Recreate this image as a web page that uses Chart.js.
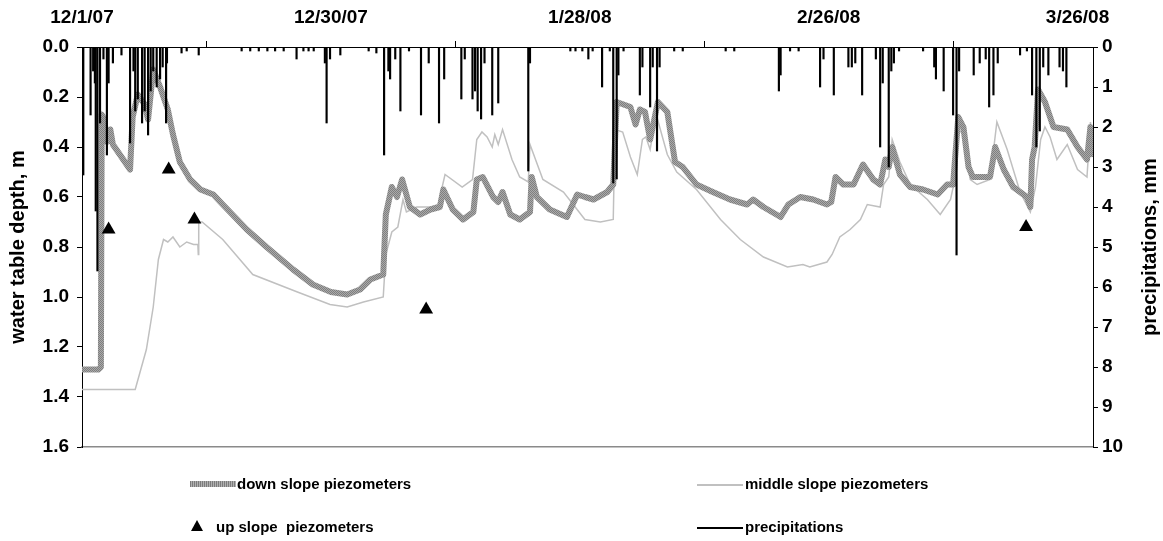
<!DOCTYPE html>
<html>
<head>
<meta charset="utf-8">
<script src="https://cdn.jsdelivr.net/npm/chart.js@4/dist/chart.umd.min.js"></script>
<style>
	body { margin: 0; background: #fff; }
	#wrap { position: relative; width: 1163px; height: 541px; }
	#chart { position: absolute; left: 0; top: 0; }
	.legend_item { position: absolute; font: bold 15px "Liberation Sans", Arial, sans-serif; color: #000; white-space: pre; line-height: 18px; }
	.sample { position: absolute; }
</style>
</head>
<body>
<div id="wrap">
	<canvas id="chart" width="1163" height="541"></canvas>
	<div class="sample" style="left:190px;top:481px;width:46px;height:6px;background:#999;background-image:repeating-linear-gradient(90deg,#7c7c7c 0 1px,#b0b0b0 1px 2px);"></div>
	<div class="legend_item" style="left:237px;top:475px;">down slope piezometers</div>
	<div class="sample" style="left:697px;top:484px;width:46px;height:1.5px;background:#c0c0c0;"></div>
	<div class="legend_item" style="left:745px;top:475px;">middle slope piezometers</div>
	<div class="sample" style="left:191px;top:520px;width:0;height:0;border-left:6px solid transparent;border-right:6px solid transparent;border-bottom:11px solid #000;"></div>
	<div class="legend_item" style="left:216px;top:518px;">up slope  piezometers</div>
	<div class="sample" style="left:697px;top:527px;width:46px;height:1.5px;background:#000;"></div>
	<div class="legend_item" style="left:745px;top:518px;">precipitations</div>
</div>
<script>
// days counted from 12/1/07
let tickDays = [0, 29, 58, 87, 116];
let tickLabels = ['12/1/07', '12/30/07', '1/28/08', '2/26/08', '3/26/08'];

let downDays = [0, 1.9, 2.2, 2.3, 2.6, 2.9, 3.3, 3.6, 4.8, 5.6, 5.9, 6.5, 7.3, 7.7, 8.3, 9.1, 10.0, 10.6, 11.4, 12.6,
	13.8, 15.3, 16.4, 19.2, 21.5, 24.6, 26.9, 29.0, 30.9, 32.4, 33.6, 35.1, 35.4, 36.1, 36.7, 37.3, 38.2, 39.4, 40.6, 41.7,
	42.1, 43.2, 44.4, 45.6, 46.0, 46.7, 47.9, 48.5, 49.0, 49.9, 51.0, 52.2, 52.4, 53.0, 54.5, 56.5, 57.7, 58.6, 59.6, 61.2,
	61.9, 62.3, 63.9, 64.5, 65.0, 65.6, 66.2, 67.1, 68.2, 69.1, 70.0, 71.6, 73.5, 75.5, 77.5, 78.2, 79.4, 81.4, 82.3, 83.7,
	85.2, 86.8, 87.3, 87.8, 88.7, 89.9, 91.0, 92.2, 93.0, 93.6, 94.0, 94.4, 95.3, 96.5, 98.0, 99.7, 100.8, 101.5, 102.1, 102.7,
	103.3, 103.8, 105.8, 106.4, 107.4, 108.5, 110.1, 110.5, 110.7, 111.0, 111.4, 112.2, 113.2, 114.8, 116.0, 117.1, 117.5, 117.8];
let downDepth = [1.29, 1.29, 1.28, 0.27, 0.29, 0.38, 0.33, 0.39, 0.45, 0.49, 0.28, 0.19, 0.23, 0.29, 0.09, 0.16, 0.25, 0.35, 0.46, 0.53,
	0.57, 0.59, 0.63, 0.73, 0.80, 0.89, 0.95, 0.98, 0.99, 0.97, 0.93, 0.91, 0.67, 0.56, 0.60, 0.53, 0.64, 0.67, 0.65, 0.64,
	0.57, 0.65, 0.69, 0.66, 0.53, 0.52, 0.60, 0.62, 0.58, 0.67, 0.69, 0.66, 0.52, 0.60, 0.65, 0.68, 0.59, 0.60, 0.61, 0.58,
	0.55, 0.22, 0.24, 0.31, 0.25, 0.26, 0.37, 0.22, 0.26, 0.46, 0.48, 0.55, 0.58, 0.61, 0.63, 0.61, 0.64, 0.68, 0.63, 0.60,
	0.61, 0.63, 0.62, 0.52, 0.55, 0.55, 0.47, 0.53, 0.55, 0.45, 0.48, 0.40, 0.51, 0.56, 0.57, 0.59, 0.55, 0.55, 0.28, 0.32,
	0.48, 0.52, 0.52, 0.40, 0.49, 0.56, 0.60, 0.64, 0.45, 0.40, 0.17, 0.22, 0.32, 0.33, 0.40, 0.45, 0.32, 0.44];

let midDays = [0, 6.2, 7.5, 8.3, 8.9, 9.5, 10.0, 10.6, 11.4, 12.2, 13.0, 13.5, 13.55, 13.6, 14.0, 16.4, 19.9, 25.1, 28.9, 30.9,
	32.8, 35.1, 35.4, 36.1, 36.8, 37.4, 37.8, 39.0, 40.6, 41.5, 42.3, 44.3, 45.5, 46.0, 46.6, 47.2, 47.8, 48.1, 48.5, 49.0,
	50.1, 51.0, 52.0, 52.2, 53.7, 56.1, 58.6, 60.4, 61.9, 62.1, 63.0, 63.9, 64.7, 65.3, 65.7, 66.2, 66.9, 68.2, 69.3, 71.6,
	74.4, 76.7, 79.4, 82.2, 84.0, 84.8, 86.8, 87.4, 88.3, 89.5, 90.7, 91.5, 93.0, 93.4, 94.0, 94.4, 95.3, 96.5, 98.5, 100.0,
	101.2, 101.7, 102.1, 102.7, 103.5, 104.3, 105.8, 106.6, 107.8, 109.3, 110.5, 111.1, 111.7, 112.2, 112.8, 113.6, 114.8, 116.0, 117.1, 117.5,
	117.8];
let midDepth = [1.37, 1.37, 1.21, 1.04, 0.85, 0.77, 0.78, 0.76, 0.80, 0.78, 0.79, 0.79, 0.83, 0.70, 0.70, 0.77, 0.91, 0.98, 1.03, 1.04,
	1.02, 1.00, 0.83, 0.74, 0.72, 0.61, 0.66, 0.64, 0.64, 0.63, 0.51, 0.56, 0.53, 0.37, 0.34, 0.36, 0.40, 0.35, 0.39, 0.33,
	0.45, 0.52, 0.54, 0.39, 0.53, 0.58, 0.69, 0.70, 0.69, 0.33, 0.34, 0.44, 0.51, 0.37, 0.36, 0.41, 0.27, 0.43, 0.50, 0.57,
	0.69, 0.77, 0.84, 0.88, 0.87, 0.88, 0.86, 0.83, 0.76, 0.73, 0.69, 0.63, 0.64, 0.55, 0.52, 0.37, 0.46, 0.55, 0.61, 0.67,
	0.61, 0.53, 0.33, 0.35, 0.53, 0.55, 0.53, 0.30, 0.41, 0.58, 0.66, 0.56, 0.37, 0.32, 0.36, 0.45, 0.39, 0.49, 0.52, 0.30,
	0.38];

let upDays = [3.1, 10.1, 13.1, 40.1, 110.0];
let upDepth = [0.73, 0.49, 0.69, 1.05, 0.72];

let rainDays = [0.15, 1.0, 1.3, 1.5, 1.6, 1.8, 2.1, 2.5, 2.9, 3.1, 3.6, 4.6, 5.6, 6.0, 6.2, 6.5, 7.0, 7.3, 7.7, 8.0,
	8.3, 8.7, 9.1, 9.4, 9.8, 9.9, 11.6, 12.2, 13.6, 18.6, 19.6, 20.6, 21.6, 22.5, 23.5, 25.0, 25.8, 26.4, 27.0, 28.3,
	28.5, 28.9, 30.1, 33.4, 34.3, 35.2, 35.7, 35.9, 36.5, 37.1, 38.1, 39.5, 40.4, 41.6, 42.2, 44.2, 44.6, 45.5, 45.8, 46.1,
	46.5, 46.9, 47.8, 48.5, 52.0, 52.2, 56.9, 57.5, 58.3, 59.0, 59.5, 60.6, 61.5, 61.9, 62.3, 62.5, 63.1, 65.0, 65.3, 66.2,
	66.5, 67.0, 67.3, 69.0, 70.0, 75.0, 76.0, 81.2, 81.4, 82.5, 83.5, 86.0, 86.4, 87.6, 89.3, 89.7, 90.1, 90.9, 92.5, 93.0,
	93.3, 94.0, 94.3, 94.6, 95.2, 98.0, 99.3, 99.5, 100.4, 101.5, 101.9, 102.2, 103.9, 104.6, 105.3, 105.7, 106.2, 106.7, 109.3, 110.1,
	110.7, 111.2, 111.6, 112.0, 112.6, 113.9, 114.3, 114.7];
let rainMm = [3.2, 1.7, 0.6, 0.9, 4.1, 5.6, 1.9, 0.3, 2.7, 0.9, 0.4, 0.2, 2.4, 0.6, 1.6, 1.3, 1.9, 1.6, 2.2, 1.1,
	0.6, 1.0, 0.8, 0.5, 1.9, 0.4, 0.15, 0.1, 0.2, 0.1, 0.1, 0.1, 0.1, 0.1, 0.1, 0.3, 0.1, 0.1, 0.1, 0.4,
	1.9, 0.3, 0.2, 0.1, 0.15, 2.7, 0.6, 0.8, 0.3, 1.6, 0.1, 1.7, 0.4, 1.9, 0.8, 1.3, 0.3, 1.3, 1.1, 1.6,
	1.8, 0.4, 1.7, 1.4, 3.1, 0.4, 0.1, 0.1, 0.1, 0.3, 0.1, 1.0, 0.1, 3.4, 3.3, 0.7, 0.1, 1.2, 0.5, 1.5,
	0.5, 2.6, 0.5, 0.1, 0.1, 0.1, 0.1, 1.1, 0.7, 0.1, 0.1, 1.0, 0.3, 1.2, 0.5, 0.5, 0.4, 1.2, 0.3, 2.5,
	0.9, 3.0, 0.6, 0.4, 0.1, 0.1, 0.5, 0.8, 1.1, 1.7, 5.2, 0.6, 0.7, 0.4, 0.3, 1.5, 1.2, 0.4, 0.2, 0.1,
	1.2, 2.5, 2.1, 0.5, 0.7, 0.5, 0.6, 1.0];

function toPoints(xs, ys)
{
	let points = [];
	for(let i = 0; i < xs.length; i++)
	{
		points.push({x: xs[i], y: ys[i]});
	}
	return points;
}

// speckled grey, like the Excel line pattern
let pattern_canvas = document.createElement('canvas');
pattern_canvas.width = 2;
pattern_canvas.height = 2;
let pctx = pattern_canvas.getContext('2d');
pctx.fillStyle = '#aaaaaa';
pctx.fillRect(0, 0, 2, 2);
pctx.fillStyle = '#7e7e7e';
pctx.fillRect(0, 0, 1, 1);
pctx.fillRect(1, 1, 1, 1);
let down_pattern = pctx.createPattern(pattern_canvas, 'repeat');

const FONT = '"Liberation Sans", Arial, sans-serif';

const rightTitle = {
	id: 'rightTitle',
	afterDraw(chart)
	{
		let ctx = chart.ctx;
		let area = chart.chartArea;
		ctx.save();
		ctx.translate(1150, (area.top + area.bottom) / 2);
		ctx.rotate(-Math.PI / 2);
		ctx.font = 'bold 20px ' + FONT;
		ctx.fillStyle = '#000';
		ctx.textAlign = 'center';
		ctx.textBaseline = 'middle';
		ctx.fillText('precipitations, mm', 0, 0);
		ctx.restore();
	}
};

let chart = new Chart(document.getElementById('chart'),
	{
		type: 'line',
		data:
			{
				datasets: [
					{
						type: 'bar',
						label: 'precipitations',
						data: toPoints(rainDays, rainMm),
						yAxisID: 'yRain',
						backgroundColor: '#000',
						barThickness: 1.5,
						order: 0
					},
					{
						label: 'up slope  piezometers',
						data: toPoints(upDays, upDepth),
						yAxisID: 'y',
						showLine: false,
						pointStyle: 'triangle',
						pointRadius: 8,
						pointBackgroundColor: '#000',
						pointBorderColor: '#000',
						pointBorderWidth: 0,
						order: 1
					},
					{
						label: 'down slope piezometers',
						data: toPoints(downDays, downDepth),
						yAxisID: 'y',
						borderColor: down_pattern,
						borderWidth: 6,
						borderJoinStyle: 'round',
						pointRadius: 0,
						tension: 0,
						order: 2
					},
					{
						label: 'middle slope piezometers',
						data: toPoints(midDays, midDepth),
						yAxisID: 'y',
						borderColor: '#c0c0c0',
						borderWidth: 1.5,
						pointRadius: 0,
						tension: 0,
						order: 3
					}
				]
			},
		options:
			{
				responsive: false,
				animation: false,
				layout: { padding: { left: 0, right: 0, top: 0, bottom: 94 } },
				plugins:
					{
						legend: { display: false },
						tooltip: { enabled: false }
					},
				scales:
					{
						x:
							{
								type: 'linear',
								position: 'top',
								min: 0,
								max: 117.8,
								offset: false,
								afterFit: function(scale) { scale.height = 47; },
								afterBuildTicks: function(scale)
									{
										scale.ticks = tickDays.map(function(d) { return {value: d}; });
									},
								ticks:
									{
										autoSkip: false,
										maxRotation: 0,
										padding: 12,
										color: '#000',
										font: { family: FONT, size: 19, weight: 'bold' },
										callback: function(value, index) { return tickLabels[index]; }
									},
								grid: { drawOnChartArea: false, tickLength: 6, color: '#000' },
								border: { color: '#000', width: 1 }
							},
						xBottom:
							{
								type: 'linear',
								position: 'bottom',
								min: 0,
								max: 1,
								afterFit: function(scale) { scale.height = 0; },
								ticks: { display: false },
								grid: { display: false },
								border: { color: '#8a8a8a', width: 1.5 }
							},
						y:
							{
								position: 'left',
								reverse: true,
								min: 0,
								max: 1.6,
								afterFit: function(scale) { scale.width = 82; },
								ticks:
									{
										stepSize: 0.2,
										padding: 8,
										color: '#000',
										font: { family: FONT, size: 19, weight: 'bold' },
										callback: function(value) { return value.toFixed(1); }
									},
								grid: { drawOnChartArea: false, tickLength: 5, color: '#000' },
								border: { color: '#000', width: 1 },
								title:
									{
										display: true,
										text: 'water table depth, m',
										color: '#000',
										font: { family: FONT, size: 20, weight: 'bold' },
										padding: { top: 6, bottom: 0 }
									}
							},
						yRain:
							{
								position: 'right',
								reverse: true,
								min: 0,
								max: 10,
								afterFit: function(scale) { scale.width = 70; },
								ticks:
									{
										stepSize: 1,
										padding: 4,
										color: '#000',
										font: { family: FONT, size: 19, weight: 'bold' }
									},
								grid: { drawOnChartArea: false, tickLength: 5, color: '#000' },
								border: { color: '#000', width: 1 }
							}
					}
			},
		plugins: [rightTitle]
	});
</script>
</body>
</html>
